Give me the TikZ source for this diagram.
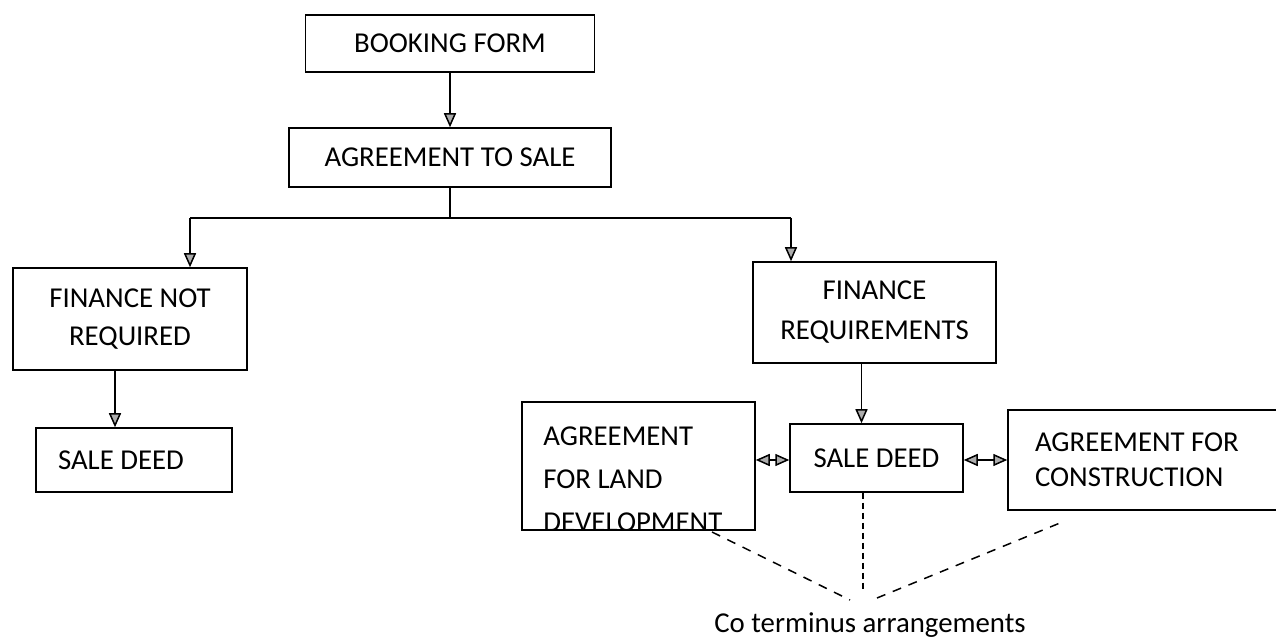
\documentclass[tikz,border=0pt]{standalone}
\usepackage{fontspec}
\setmainfont{Carlito}
\usetikzlibrary{arrows.meta}
\newcommand\lab{\fontsize{14.4}{19}\selectfont}
\tikzset{
  x=0.5pt, y=-0.5pt,
  box/.style={draw, line width=0.75pt, inner sep=0pt, font=\lab, align=center},
  arr/.style={-{Triangle[length=7pt,width=6pt,fill=gray!65]}, line width=0.75pt},
  darr/.style={{Triangle[length=7pt,width=6pt,fill=gray!65]}-{Triangle[length=7pt,width=6pt,fill=gray!65]}, line width=0.75pt},
  dsh/.style={dash pattern=on 4.5pt off 4pt, line width=0.75pt},
  dshv/.style={dash pattern=on 3pt off 2pt, line width=0.75pt},
  txt/.style={inner sep=0pt, font=\lab}
}
\begin{document}
\begin{tikzpicture}
\clip (0,0) rectangle (1276,640);
\fill[white] (0,0) rectangle (1276,640);

% boxes
\node[box, minimum width=144.5pt, minimum height=28.5pt] (book) at (450,43.5) {BOOKING FORM};
\node[box, minimum width=161pt, minimum height=29.5pt] (ats) at (450,157.5) {AGREEMENT TO SALE};
\node[box, minimum width=117pt, minimum height=51pt] (fnr) at (130,319) {FINANCE NOT\\REQUIRED};
\node[box, minimum width=98pt, minimum height=32pt, text width=76pt, align=flush left] (sd1) at (134,460) {SALE DEED};
\node[box, minimum width=121.5pt, minimum height=50.5pt, font=\fontsize{14.4}{20}\selectfont] (freq) at (874.5,312.5) {FINANCE\\REQUIREMENTS};
\node[box, minimum width=86.5pt, minimum height=34pt] (sd2) at (876.5,458) {SALE DEED};
\node[box, minimum width=116.5pt, minimum height=64pt] (land) at (638.5,466) {};
\node[box, minimum width=156pt, minimum height=50pt, text width=129pt, align=flush left, font=\fontsize{14.4}{17.5}\selectfont] (cons) at (1164,460) {AGREEMENT FOR\\CONSTRUCTION};
\begin{scope}
  \clip ([shift={(0.4pt,-0.4pt)}]land.north west) rectangle ([shift={(-0.4pt,0.4pt)}]land.south east);
  \node[txt, anchor=west, align=flush left, font=\fontsize{14.4}{21.5}\selectfont] (landtxt) at (543,479.5) {AGREEMENT\\FOR LAND\\DEVELOPMENT};
\end{scope}
\node[txt] (co) at (870,625) {Co terminus arrangements};

% connectors
\coordinate (jl) at (190,218);
\coordinate (jr) at (791,218);
\coordinate (ya) at (0,460);
\draw[arr] (book) -- (ats);
\draw[line width=0.75pt] (ats.south) -- (ats.south |- jl);
\draw[line width=0.75pt] (jl) -- (jr);
\draw[arr] (jl) -- (jl |- fnr.north);
\draw[arr] (jr) -- (jr |- freq.north);
\draw[arr] ([xshift=-7.5pt]fnr.south) -- ([xshift=-7.5pt]fnr.south |- sd1.north);
\draw[arr] ([xshift=-6.5pt]freq.south) -- ([xshift=-6.5pt]freq.south |- sd2.north);
\draw[darr] (land.east |- ya) -- (sd2.west |- ya);
\draw[darr] (sd2.east |- ya) -- (cons.west |- ya);

% co terminus dashed lines
\coordinate (cl) at (712,532);
\coordinate (cle) at (850,600);
\coordinate (cre) at (877,598);
\coordinate (cr) at (1060,523);
\coordinate (cm) at (863,590);
\draw[dsh] (cl) -- (cle);
\draw[dsh] (cre) -- (cr);
\draw[dshv] (sd2.south -| cm) -- (cm);
\end{tikzpicture}
\end{document}
